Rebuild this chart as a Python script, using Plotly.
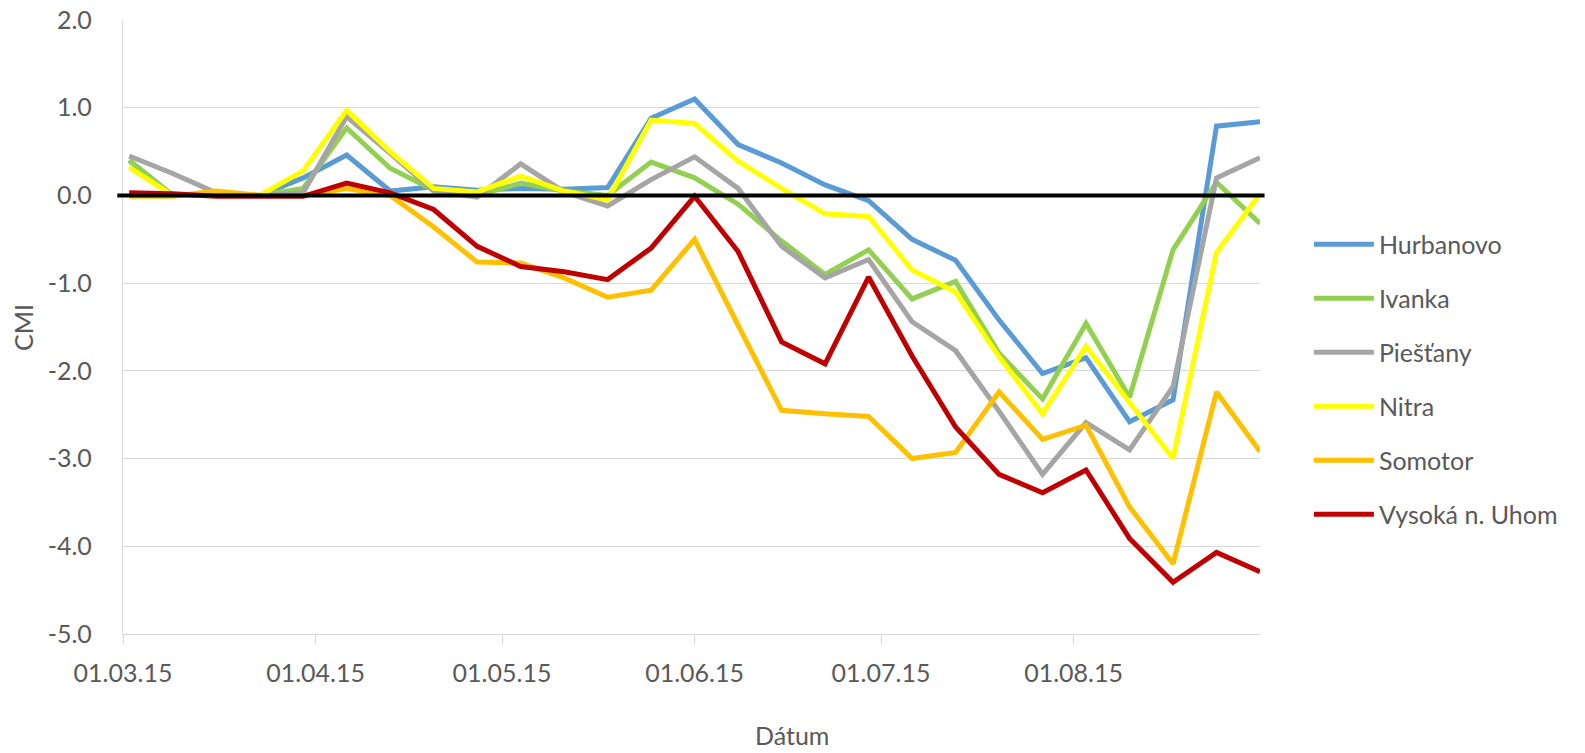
import plotly.graph_objects as go

dates = ["2015-03-02", "2015-03-09", "2015-03-16", "2015-03-23", "2015-03-30",
         "2015-04-06", "2015-04-13", "2015-04-20", "2015-04-27", "2015-05-04",
         "2015-05-11", "2015-05-18", "2015-05-25", "2015-06-01", "2015-06-08",
         "2015-06-15", "2015-06-22", "2015-06-29", "2015-07-06", "2015-07-13",
         "2015-07-20", "2015-07-27", "2015-08-03", "2015-08-10", "2015-08-17",
         "2015-08-24", "2015-08-31"]

hurbanovo = [0.40, 0.00, 0.00, 0.00, 0.20, 0.46, 0.05, 0.10, 0.06, 0.08,
             0.07, 0.09, 0.88, 1.10, 0.58, 0.37, 0.12, -0.06, -0.50, -0.74,
             -1.42, -2.03, -1.85, -2.58, -2.33, 0.79, 0.84]
ivanka = [0.40, 0.00, 0.00, 0.00, 0.08, 0.77, 0.31, 0.06, 0.00, 0.14,
          0.05, 0.00, 0.38, 0.20, -0.10, -0.52, -0.90, -0.62, -1.18, -0.98,
          -1.80, -2.32, -1.46, -2.30, -0.62, 0.15, -0.32]
piestany = [0.45, 0.25, 0.03, 0.00, 0.03, 0.90, 0.48, 0.05, -0.02, 0.36,
            0.04, -0.12, 0.18, 0.44, 0.08, -0.58, -0.94, -0.73, -1.44, -1.77,
            -2.46, -3.18, -2.59, -2.90, -2.18, 0.20, 0.43]
nitra = [0.32, 0.00, 0.00, 0.00, 0.28, 0.97, 0.50, 0.08, 0.04, 0.22,
         0.05, -0.05, 0.86, 0.82, 0.39, 0.08, -0.21, -0.24, -0.85, -1.10,
         -1.84, -2.49, -1.72, -2.37, -3.00, -0.65, 0.02]
somotor = [-0.01, -0.01, 0.05, 0.00, 0.00, 0.08, 0.00, -0.36, -0.76, -0.77,
           -0.94, -1.16, -1.08, -0.50, -1.48, -2.45, -2.49, -2.52, -3.00, -2.93,
           -2.24, -2.78, -2.62, -3.55, -4.20, -2.24, -2.92]
vysoka = [0.03, 0.02, -0.01, -0.01, -0.01, 0.14, 0.03, -0.16, -0.58, -0.81,
          -0.87, -0.96, -0.60, -0.01, -0.64, -1.67, -1.92, -0.93, -1.83, -2.64,
          -3.18, -3.39, -3.13, -3.91, -4.41, -4.07, -4.29]

series_names = ["Hurbanovo", "Ivanka", "Piešťany", "Nitra", "Somotor", "Vysoká n. Uhom"]
series_values = [hurbanovo, ivanka, piestany, nitra, somotor, vysoka]
series_colors = ["#5B9BD5", "#92D050", "#A5A5A5", "#FFFF00", "#FFC000", "#C00000"]

y_tickvals = [2, 1, 0, -1, -2, -3, -4, -5]
y_ticktext = ["2.0", "1.0", "0.0", "-1.0", "-2.0", "-3.0", "-4.0", "-5.0"]

FONT = "Lato, 'Open Sans', sans-serif"
GREY = "#595959"
GRID = "#D9D9D9"

fig = go.Figure()
for name, vals, col in zip(series_names, series_values, series_colors):
    fig.add_trace(go.Scatter(
        x=dates, y=vals, name=name, mode="lines", legendgroup=name,
        line=dict(color=col, width=5, shape="linear"),
    ))

# zero reference line
fig.add_shape(type="line", xref="paper", yref="y", x0=-0.005, x1=1.004, y0=0, y1=0,
              line=dict(color="black", width=4), layer="above")

fig.update_layout(
    width=1585, height=753,
    margin=dict(l=123, r=325, t=20, b=119),
    paper_bgcolor="white", plot_bgcolor="white",
    font=dict(family=FONT, size=25, color=GREY),
    showlegend=True,
    legend=dict(x=1.043, xanchor="left", y=0.672, yanchor="top",
                font=dict(family=FONT, size=25, color=GREY),
                tracegroupgap=18.5, itemwidth=60, bgcolor="rgba(0,0,0,0)"),
    xaxis=dict(type="date", range=["2015-03-01", "2015-08-31"],
               tick0="2015-03-01", dtick="M1", tickformat="%d.%m.%y",
               showgrid=False, showline=True, linecolor=GRID, linewidth=1.3,
               ticks="outside", ticklen=9, tickcolor=GRID, tickwidth=1.3,
               ticklabelstandoff=8, zeroline=False, automargin=False,
               ticklabeloverflow="allow",
               tickfont=dict(family=FONT, size=25, color=GREY)),
    yaxis=dict(range=[-5, 2.0001], tickvals=y_tickvals, ticktext=y_ticktext,
               showgrid=True, gridcolor=GRID, gridwidth=1.3,
               showline=True, linecolor=GRID, linewidth=1.3,
               zeroline=False, ticks="", ticklabelstandoff=25, automargin=False,
               ticklabeloverflow="allow",
               tickfont=dict(family=FONT, size=25, color=GREY)),
    annotations=[
        dict(text="CMI", xref="paper", yref="paper", x=-0.088, y=0.5,
             textangle=-90, showarrow=False, xanchor="center", yanchor="middle",
             font=dict(family=FONT, size=25, color=GREY)),
        dict(text="Dátum", xref="paper", yref="paper", x=0.5885, y=-0.165,
             showarrow=False, xanchor="center", yanchor="middle",
             font=dict(family=FONT, size=25, color=GREY)),
    ],
)

fig.write_html("out.html", config={"displayModeBar": False},
               post_script="document.body.style.margin='0';")
